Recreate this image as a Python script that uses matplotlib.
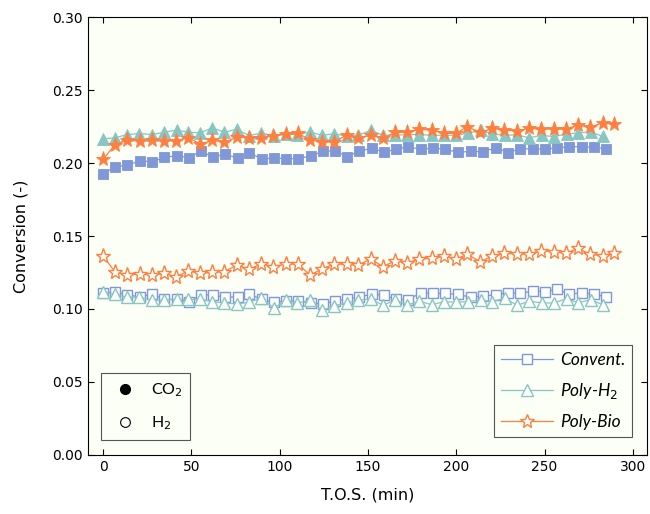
import matplotlib
matplotlib.use("Agg")
import matplotlib.pyplot as plt
from matplotlib.lines import Line2D

# time on stream (min) for each catalyst
t_conv = [0, 6.8, 13.8, 20.9, 27.9, 34.7, 41.7, 48.5, 55.5, 62.3, 69.2, 76.2, 82.8, 89.8,
          96.8, 103.4, 110.5, 117.6, 124.4, 131.3, 138.3, 145.1, 152.1, 159.1, 165.8, 172.8,
          179.8, 186.6, 193.6, 201.1, 208.3, 215.3, 222.3, 229.4, 236.2, 243.4, 250.4, 257.1,
          263.9, 271.0, 277.9, 284.7]
t_polyh2 = [0, 6.6, 13.8, 20.6, 27.9, 34.7, 41.7, 48.3, 55.1, 61.9, 68.7, 75.7, 82.6, 89.4,
            96.8, 103.4, 110.0, 117.2, 124.1, 130.7, 137.9, 144.5, 151.5, 158.7, 165.3, 172.2,
            179.0, 186.1, 193.1, 199.9, 206.8, 213.8, 220.4, 227.5, 234.5, 241.3, 248.3, 255.5,
            262.5, 269.0, 276.1, 282.8]
t_polybio = [0, 6.6, 13.8, 21.0, 27.9, 34.7, 41.3, 48.3, 55.1, 61.9, 68.7, 75.9, 82.7, 89.5,
             96.4, 103.4, 110.5, 117.2, 124.1, 130.7, 137.9, 144.5, 151.5, 158.6, 165.3, 172.3,
             179.1, 186.1, 193.1, 199.9, 206.3, 213.5, 220.5, 227.3, 234.3, 241.3, 248.1, 255.1,
             262.1, 268.7, 275.9, 282.8, 289.4]

# CO2 conversion (filled markers)
conv_co2 = [0.1925, 0.1975, 0.1984, 0.2016, 0.2007, 0.2039, 0.2050, 0.2036, 0.2082, 0.2039,
            0.2062, 0.2032, 0.2071, 0.2027, 0.2034, 0.2030, 0.2030, 0.2048, 0.2080, 0.2084,
            0.2043, 0.2082, 0.2100, 0.2075, 0.2094, 0.2112, 0.2094, 0.2103, 0.2094, 0.2073,
            0.2080, 0.2078, 0.2105, 0.2071, 0.2098, 0.2096, 0.2096, 0.2103, 0.2112, 0.2112,
            0.2107, 0.2098]
polyh2_co2 = [0.2166, 0.2172, 0.2195, 0.2202, 0.2195, 0.2211, 0.2225, 0.2211, 0.2207, 0.2241,
              0.2211, 0.2232, 0.2188, 0.2204, 0.2188, 0.2200, 0.2195, 0.2212, 0.2190, 0.2200,
              0.2185, 0.2190, 0.2223, 0.2190, 0.2190, 0.2195, 0.2195, 0.2190, 0.2190, 0.2190,
              0.2205, 0.2223, 0.2200, 0.2190, 0.2193, 0.2172, 0.2190, 0.2180, 0.2200, 0.2205,
              0.2215, 0.2182]
polybio_co2 = [0.2025, 0.2123, 0.2158, 0.2151, 0.2158, 0.2153, 0.2153, 0.2174, 0.2130, 0.2155,
               0.2144, 0.2176, 0.2174, 0.2169, 0.2187, 0.2196, 0.2203, 0.2158, 0.2146, 0.2142,
               0.2192, 0.2169, 0.2192, 0.2169, 0.2210, 0.2210, 0.2231, 0.2226, 0.2203, 0.2203,
               0.2249, 0.2210, 0.2237, 0.2226, 0.2219, 0.2237, 0.2231, 0.2233, 0.2231, 0.2260,
               0.2245, 0.2276, 0.2265]

# H2 conversion (open markers)
conv_h2 = [0.1107, 0.1119, 0.1096, 0.1084, 0.1100, 0.1066, 0.1066, 0.1050, 0.1096, 0.1096,
           0.1080, 0.1084, 0.1100, 0.1066, 0.1046, 0.1055, 0.1055, 0.1040, 0.1034, 0.1055,
           0.1068, 0.1084, 0.1100, 0.1096, 0.1066, 0.1062, 0.1112, 0.1107, 0.1107, 0.1100,
           0.1080, 0.1091, 0.1096, 0.1112, 0.1107, 0.1123, 0.1119, 0.1137, 0.1100, 0.1112,
           0.1100, 0.1084]
polyh2_h2 = [0.1116, 0.1104, 0.1080, 0.1082, 0.1059, 0.1062, 0.1066, 0.1066, 0.1066, 0.1050,
             0.1041, 0.1035, 0.1045, 0.1075, 0.1007, 0.1059, 0.1042, 0.1059, 0.0990, 0.1022,
             0.1042, 0.1059, 0.1070, 0.1024, 0.1064, 0.1027, 0.1053, 0.1030, 0.1050, 0.1047,
             0.1050, 0.1064, 0.1050, 0.1075, 0.1025, 0.1055, 0.1041, 0.1042, 0.1071, 0.1042,
             0.1064, 0.1030]
polybio_h2 = [0.1365, 0.1256, 0.1233, 0.1240, 0.1233, 0.1244, 0.1221, 0.1260, 0.1244, 0.1251,
              0.1256, 0.1301, 0.1272, 0.1308, 0.1290, 0.1308, 0.1308, 0.1233, 0.1274, 0.1308,
              0.1306, 0.1301, 0.1342, 0.1290, 0.1331, 0.1317, 0.1342, 0.1347, 0.1363, 0.1342,
              0.1375, 0.1324, 0.1363, 0.1381, 0.1377, 0.1377, 0.1399, 0.1393, 0.1381, 0.1416,
              0.1375, 0.1363, 0.1386]

names = ["Convent.", "Poly-H$_2$", "Poly-Bio"]
BLUE = "#8097d8"
TEAL = "#88c5c3"
ORANGE = "#ff7f40"
BG = "#fcfff5"

fig = plt.figure(figsize=(6.5, 5.14), dpi=100)
ax = fig.add_axes([0.1354, 0.1148, 0.86, 0.8521])
ax.set_facecolor(BG)

series = [
    (t_conv, conv_co2, conv_h2, BLUE, "s", 7, 7.2),
    (t_polyh2, polyh2_co2, polyh2_h2, TEAL, "^", 8.2, 8.4),
    (t_polybio, polybio_co2, polybio_h2, ORANGE, "*", 11, 11),
]
for t, co2, h2, col, mk, ms_f, ms_o in series:
    ax.plot(t, co2, color=col, lw=0.9, marker=mk, ms=ms_f, mfc=col, mec=col, mew=0.6)
for t, co2, h2, col, mk, ms_f, ms_o in series:
    ax.plot(t, h2, color=col, lw=0.9, marker=mk, ms=ms_o, mfc=BG, mec=col, mew=1.0)

ax.set_xlim(-8.5, 308)
ax.set_ylim(0, 0.30)
ax.set_xticks([0, 50, 100, 150, 200, 250, 300])
ax.set_yticks([0.00, 0.05, 0.10, 0.15, 0.20, 0.25, 0.30])
ax.yaxis.set_major_formatter(matplotlib.ticker.FormatStrFormatter("%.2f"))
ax.tick_params(direction="in", length=4, width=0.8, labelsize=10, top=True, right=True,
               labeltop=False, labelright=False)
for sp in ax.spines.values():
    sp.set_linewidth(0.8)
ax.set_xlabel("T.O.S. (min)", fontsize=11.5, labelpad=10)
ax.set_ylabel("Conversion (-)", fontsize=11.5, labelpad=17)

# catalyst legend
cat_handles = [Line2D([], [], color=c, lw=0.9, marker=m, ms=s, mfc="white", mec=c, mew=1.0)
               for c, m, s in [(BLUE, "s", 7), (TEAL, "^", 8), (ORANGE, "*", 10)]]
leg1 = fig.legend(cat_handles, names, loc="lower right", bbox_to_anchor=(632 / 650, 77 / 514),
                  frameon=True, fancybox=False, edgecolor="#555555", facecolor=BG,
                  framealpha=1, handlelength=3.0, borderaxespad=0, borderpad=0.4,
                  labelspacing=0.75, handletextpad=0.4,
                  prop={"family": "Lato", "style": "italic", "size": 12.5})
leg1.get_frame().set_linewidth(0.8)

# species legend
sp_handles = [Line2D([], [], ls="none", marker="o", ms=7, mfc="black", mec="black"),
              Line2D([], [], ls="none", marker="o", ms=7, mfc="white", mec="black", mew=0.8)]
leg2 = fig.legend(sp_handles, ["CO$_2$", "H$_2$"], loc="lower left",
                  bbox_to_anchor=(101 / 650, 74 / 514), frameon=True, fancybox=False,
                  edgecolor="#555555", facecolor=BG, framealpha=1, borderaxespad=0,
                  borderpad=0.5, labelspacing=0.95, handletextpad=0.6, handlelength=2.0,
                  prop={"family": "Lato", "size": 11.5})
leg2.get_frame().set_linewidth(0.8)

fig.savefig("out.png", dpi=100, facecolor="white")
